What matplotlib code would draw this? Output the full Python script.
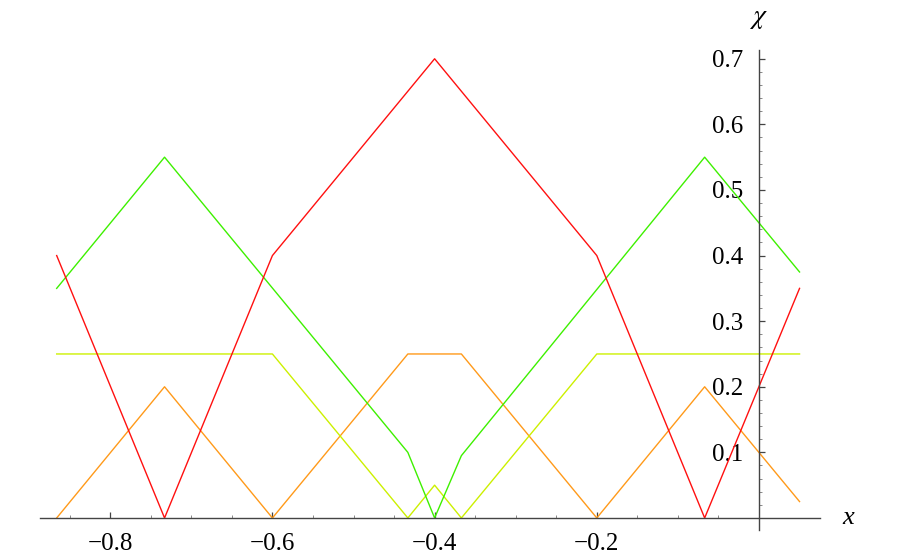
import matplotlib.pyplot as plt
from matplotlib.ticker import FixedLocator

# breakpoints of the four piecewise-linear curves
red_x = [-0.866, -0.733, -0.6, -0.4, -0.2, -0.067, 0.05]
red_y = [0.4, 0.0, 0.4, 0.7, 0.4, 0.0, 0.35]

green_x = [-0.866, -0.733, -0.433, -0.4, -0.367, -0.067, 0.05]
green_y = [0.35, 0.55, 0.1, 0.0, 0.095, 0.55, 0.375]

yellow_x = [-0.866, -0.6, -0.433, -0.4, -0.367, -0.2, 0.05]
yellow_y = [0.25, 0.25, 0.0, 0.05, 0.0, 0.25, 0.25]

orange_x = [-0.866, -0.733, -0.6, -0.433, -0.367, -0.2, -0.067, 0.05]
orange_y = [0.0, 0.2, 0.0, 0.25, 0.25, 0.0, 0.2, 0.025]

x_ticks = [-0.8, -0.6, -0.4, -0.2]
y_ticks = [0.1, 0.2, 0.3, 0.4, 0.5, 0.6, 0.7]

plt.rcParams['font.family'] = ['Liberation Serif', 'DejaVu Serif']
plt.rcParams['mathtext.fontset'] = 'stix'

fig = plt.figure(figsize=(9.01, 5.57), dpi=100)
ax = fig.add_axes([0, 0, 1, 1])
ax.set_xlim(-0.9359, 0.1751)
ax.set_ylim(-0.0595, 0.7896)

lw = 1.0
ax.plot(orange_x, orange_y, color='#ff9a1a', lw=lw)
ax.plot(yellow_x, yellow_y, color='#ccf000', lw=lw)
ax.plot(green_x, green_y, color='#3ef000', lw=lw)
ax.plot(red_x, red_y, color='#ff1010', lw=lw)

for s in ['top', 'right']:
    ax.spines[s].set_visible(False)
axis_col = '#444444'
ax.spines['left'].set_position(('data', 0))
ax.spines['bottom'].set_position(('data', 0))
ax.spines['left'].set_bounds(-0.018, 0.713)
ax.spines['bottom'].set_bounds(-0.887, 0.075)
for s in ['left', 'bottom']:
    ax.spines[s].set_color(axis_col)
    ax.spines[s].set_linewidth(1.0)

ax.xaxis.set_major_locator(FixedLocator(x_ticks))
ax.yaxis.set_major_locator(FixedLocator(y_ticks))
ax.xaxis.set_minor_locator(FixedLocator([-0.85 + 0.05 * i for i in range(18) if i % 4 != 1]))
ax.yaxis.set_minor_locator(FixedLocator([0.02 * i for i in range(1, 36) if i % 5 != 0]))
ax.set_xticklabels(['−0.8', '−0.6', '−0.4', '−0.2'])
ax.set_yticklabels(['%.1f' % v for v in y_ticks])

ax.tick_params(which='major', direction='in', length=4.5, width=0.9, color=axis_col,
               labelsize=18, pad=11)
ax.tick_params(which='minor', direction='in', length=2.5, width=0.7, color='#888888')

ax.text(0.110, 0.0, 'x', fontsize=19, style='italic', ha='center', va='center')
ax.text(-0.001, 0.762, r'$\chi$', fontsize=20, ha='center', va='center')

fig.savefig('out.png', dpi=100)
